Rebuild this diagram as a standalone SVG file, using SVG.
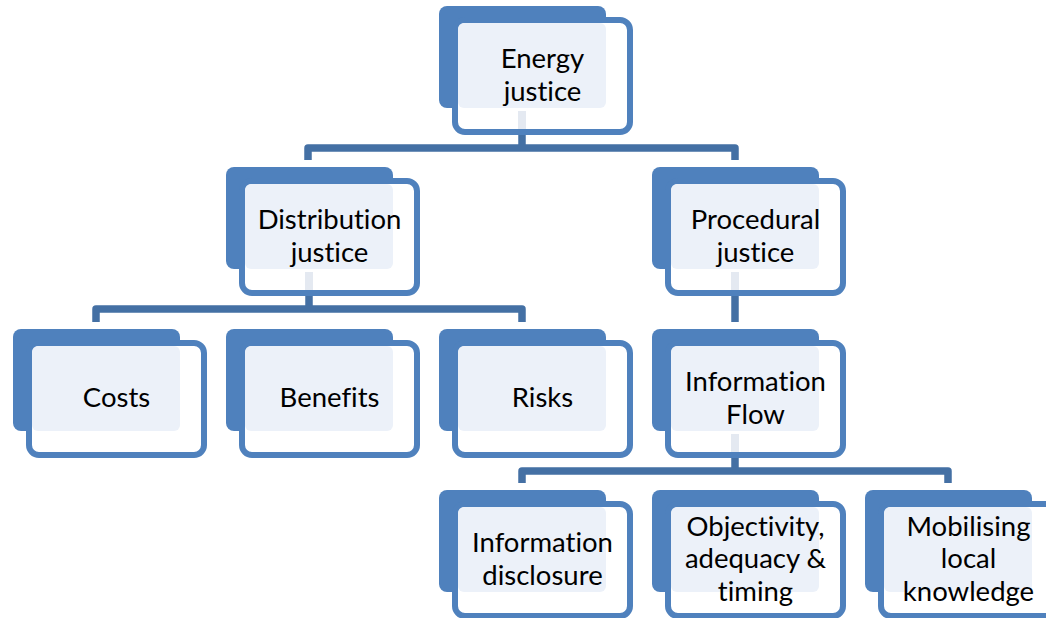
<svg xmlns="http://www.w3.org/2000/svg" width="1046" height="618" viewBox="0 0 1046 618">
<style>
.back{fill:#4F81BD}
.front{fill:#FFFFFF;stroke:#4F81BD;stroke-width:6}
.light{fill:#ECF1F9}
.stub{fill:#E4E9F1}
.conn{fill:none;stroke:#4470A4;stroke-width:7.5;stroke-linejoin:round}
text{font-family:Lato,"Open Sans","Liberation Sans",sans-serif;font-size:27.5px;fill:#000000;text-anchor:middle;font-variant-ligatures:none;font-feature-settings:"liga" 0,"clig" 0}
</style>
<defs>
<g id="box">
<rect class="back" x="0" y="0" width="167" height="102" rx="8"/>
<rect class="front" x="16" y="14" width="175" height="112" rx="10"/>
<rect class="light" x="19" y="17" width="148" height="85" rx="6"/>
</g>
<rect id="stubr" class="stub" x="79" y="105" width="8" height="18"/>
</defs>
<g id="connectors">
<path class="conn" d="M522,135 V148 M308,160 V148 H735 V160"/>
<path class="conn" d="M309,296 V309 M96,322 V309 H522 V322"/>
<path class="conn" d="M735,296 V322"/>
<path class="conn" d="M735,458 V471 M522,483 V471 H948 V483"/>
</g>
<g id="energy-justice" transform="translate(439,6)">
<use href="#box"/><use href="#stubr"/>
<text x="103.5" y="62">Energy</text><text x="103.5" y="94.5">justice</text>
</g>
<g id="distribution-justice" transform="translate(226,167)">
<use href="#box"/><use href="#stubr"/>
<text x="103.5" y="62">Distribution</text><text x="103.5" y="94.5">justice</text>
</g>
<g id="procedural-justice" transform="translate(652,167)">
<use href="#box"/><use href="#stubr"/>
<text x="103.5" y="62">Procedural</text><text x="103.5" y="94.5">justice</text>
</g>
<g id="costs" transform="translate(13,329)">
<use href="#box"/>
<text x="103.5" y="78">Costs</text>
</g>
<g id="benefits" transform="translate(226,329)">
<use href="#box"/>
<text x="103.5" y="78">Benefits</text>
</g>
<g id="risks" transform="translate(439,329)">
<use href="#box"/>
<text x="103.5" y="78">Risks</text>
</g>
<g id="information-flow" transform="translate(652,329)">
<use href="#box"/><use href="#stubr"/>
<text x="103.5" y="62">Information</text><text x="103.5" y="94.5">Flow</text>
</g>
<g id="information-disclosure" transform="translate(439,490)">
<use href="#box"/>
<text x="103.5" y="62">Information</text><text x="103.5" y="94.5">disclosure</text>
</g>
<g id="objectivity" transform="translate(652,490)">
<use href="#box"/>
<text x="103.5" y="45.5">Objectivity,</text><text x="103.5" y="78">adequacy &amp;</text><text x="103.5" y="110.5">timing</text>
</g>
<g id="mobilising" transform="translate(865,490)">
<use href="#box"/>
<text x="103.5" y="45.5">Mobilising</text><text x="103.5" y="78">local</text><text x="103.5" y="110.5">knowledge</text>
</g>
</svg>
